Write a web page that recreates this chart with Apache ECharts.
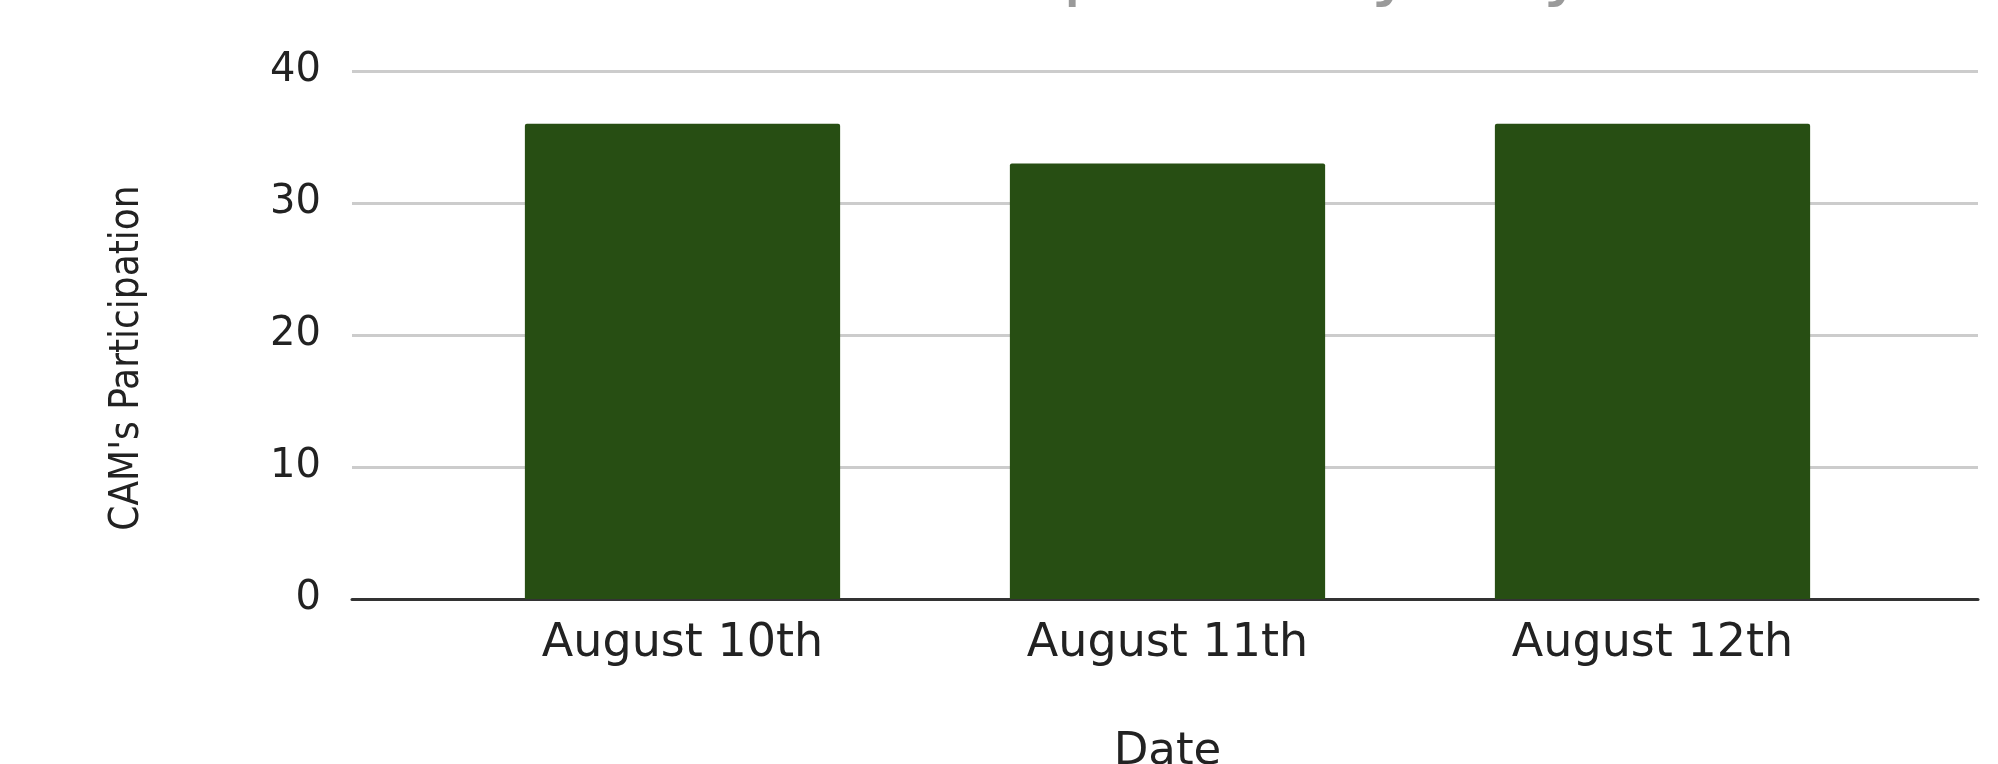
<!DOCTYPE html>
<html>
<head>
<meta charset="utf-8">
<script src="https://cdn.jsdelivr.net/npm/echarts@6/dist/echarts.min.js"></script>
<style>
html,body{margin:0;padding:0;background:#fff;}
#chart{width:1998px;height:764px;}
</style>
</head>
<body>
<div id="chart"></div>
<script>
const titleText = "CAM's Participation by Day";
const categories = ['August 10th', 'August 11th', 'August 12th'];
const participation = [36, 33, 36];
const yTicks = { min: 0, max: 40, interval: 10 };
const xAxisName = 'Date';
const yAxisName = "CAM's Participation";

const FONT = 'DejaVu Sans';
const chart = echarts.init(document.getElementById('chart'), null, { renderer: 'canvas' });
chart.setOption({
  animation: false,
  backgroundColor: '#ffffff',
  title: {
    text: titleText,
    left: 579,
    top: -66,
    padding: 0,
    textStyle: { fontFamily: FONT, fontSize: 75, lineHeight: 75, fontWeight: 'normal', color: '#9a9a9a' }
  },
  grid: [
    { left: 352, right: 20, top: 71, bottom: 165, containLabel: false, outerBoundsMode: 'none' },
    { left: 440, width: 1455, top: 71, bottom: 165, containLabel: false, outerBoundsMode: 'none' }
  ],
  xAxis: [
    {
      gridIndex: 0, type: 'category', data: categories,
      axisLine: { show: true, onZero: false, lineStyle: { color: '#333333', width: 3 } },
      axisTick: { show: false }, axisLabel: { show: false }, splitLine: { show: false }
    },
    {
      gridIndex: 1, type: 'category', data: categories,
      axisLine: { show: false, onZero: false }, axisTick: { show: false },
      axisLabel: { margin: 22, fontFamily: FONT, fontSize: 46, color: '#222222' },
      name: xAxisName, nameLocation: 'middle', nameGap: 131,
      nameTextStyle: { fontFamily: FONT, fontSize: 45, color: '#222222' }
    }
  ],
  yAxis: [
    {
      gridIndex: 0, type: 'value', min: yTicks.min, max: yTicks.max, interval: yTicks.interval,
      axisLine: { show: false }, axisTick: { show: false },
      axisLabel: { margin: 31, fontFamily: FONT, fontSize: 40, color: '#222222' },
      splitLine: { show: true, lineStyle: { color: '#cccccc', width: 3 } },
      name: yAxisName, nameLocation: 'middle', nameGap: 204,
      nameTextStyle: { fontFamily: "'DejaVu Sans Condensed', 'DejaVu Sans'", fontSize: 40, color: '#222222', padding: [0, 46, 0, 0] }
    },
    {
      gridIndex: 1, type: 'value', min: yTicks.min, max: yTicks.max, interval: yTicks.interval,
      show: false, splitLine: { show: false }
    }
  ],
  series: [
    {
      type: 'bar', xAxisIndex: 1, yAxisIndex: 1,
      data: participation, barWidth: '65%', z: 3,
      itemStyle: { color: '#274e13', borderRadius: [2, 2, 0, 0] }
    }
  ]
});
</script>
</body>
</html>
